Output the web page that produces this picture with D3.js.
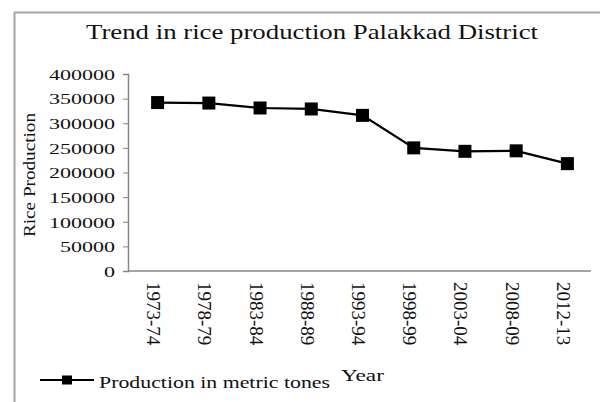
<!DOCTYPE html>
<html>
<head>
<meta charset="utf-8">
<script src="https://cdn.jsdelivr.net/npm/d3@7"></script>
<style>
  body { margin: 0; background: #fff; }
  text { font-family: "Liberation Serif", "Times New Roman", serif; fill: #111; }
</style>
</head>
<body>
<div id="plot"></div>
<script>
// chart data
let years = ["1973-74", "1978-79", "1983-84", "1988-89", "1993-94", "1998-99", "2003-04", "2008-09", "2012-13"]
let production = [342000, 341000, 331000, 329000, 316000, 250000, 243000, 244000, 218000]
let yTicks = [0, 50000, 100000, 150000, 200000, 250000, 300000, 350000, 400000]

let svg = d3.select('#plot').append('svg')
.attr('width', 600)
.attr('height', 402)

// outer chart border
svg.append('rect')
.attr('x', 14.5)
.attr('y', 12.5)
.attr('width', 620)
.attr('height', 420)
.attr('fill', 'none')
.attr('stroke', '#a6a6a6')
.attr('stroke-width', 2)

let x = d3.scaleBand().domain(years).range([132, 593])
let y = d3.scaleLinear().domain([0, 400000]).range([271, 74])

// title
svg.append('text')
.attr('x', 312)
.attr('y', 39)
.attr('text-anchor', 'middle')
.attr('textLength', 452)
.attr('lengthAdjust', 'spacingAndGlyphs')
.style('font-size', '21px')
.text('Trend in rice production Palakkad District')

// y axis
let yAxis = svg.append('g')
.attr('transform', 'translate(128,0)')
.call(d3.axisLeft(y).tickValues(yTicks).tickSize(5).tickFormat(d3.format('d')))
yAxis.select('.domain').attr('stroke', '#868686').attr('stroke-width', 1.5)
yAxis.selectAll('line').attr('stroke', '#868686')
yAxis.selectAll('text')
.attr('x', -13)
.attr('dy', '0.35em')
.attr('textLength', function(d) { return String(d).length * 11 })
.attr('lengthAdjust', 'spacingAndGlyphs')
.style('font-size', '15px')
.style('font-family', '"Liberation Serif", serif')
.attr('fill', '#111')

// x axis
svg.append('line')
.attr('x1', 128)
.attr('x2', 591)
.attr('y1', y(0))
.attr('y2', y(0))
.attr('stroke', '#868686')
.attr('stroke-width', 1.5)

svg.selectAll('.xlabel').data(years).enter()
.append('text')
.attr('class', 'xlabel')
.attr('transform', function(d) { return 'translate(' + (x(d) + x.bandwidth() / 2) + ',282) rotate(90)' })
.attr('dy', '0.55em')
.style('font-size', '19px')
.text(d => d)

// axis titles
svg.append('text')
.attr('transform', 'translate(35,175) rotate(-90)')
.attr('text-anchor', 'middle')
.attr('textLength', 124)
.attr('lengthAdjust', 'spacingAndGlyphs')
.style('font-size', '16px')
.text('Rice Production')

svg.append('text')
.attr('x', 341)
.attr('y', 381)
.attr('textLength', 43)
.attr('lengthAdjust', 'spacingAndGlyphs')
.style('font-size', '16px')
.text('Year')

// line + markers
let line = d3.line()
.x((d, i) => x(years[i]) + x.bandwidth() / 2)
.y(d => y(d))

svg.append('path')
.datum(production)
.attr('d', line)
.attr('fill', 'none')
.attr('stroke', '#000')
.attr('stroke-width', 2.2)

svg.selectAll('.marker').data(production).enter()
.append('rect')
.attr('class', 'marker')
.attr('x', (d, i) => x(years[i]) + x.bandwidth() / 2 - 6.5)
.attr('y', d => y(d) - 6.5)
.attr('width', 13)
.attr('height', 13)
.attr('fill', '#000')

// legend
let legend = svg.append('g').attr('transform', 'translate(40,380)')
legend.append('line')
.attr('x1', 0)
.attr('x2', 54)
.attr('stroke', '#000')
.attr('stroke-width', 2.2)
legend.append('rect')
.attr('x', 22)
.attr('y', -4.5)
.attr('width', 10)
.attr('height', 9)
.attr('fill', '#000')
legend.append('text')
.attr('x', 59)
.attr('y', 8)
.attr('textLength', 231)
.attr('lengthAdjust', 'spacingAndGlyphs')
.style('font-size', '16.5px')
.text('Production in metric tones')
</script>
</body>
</html>
